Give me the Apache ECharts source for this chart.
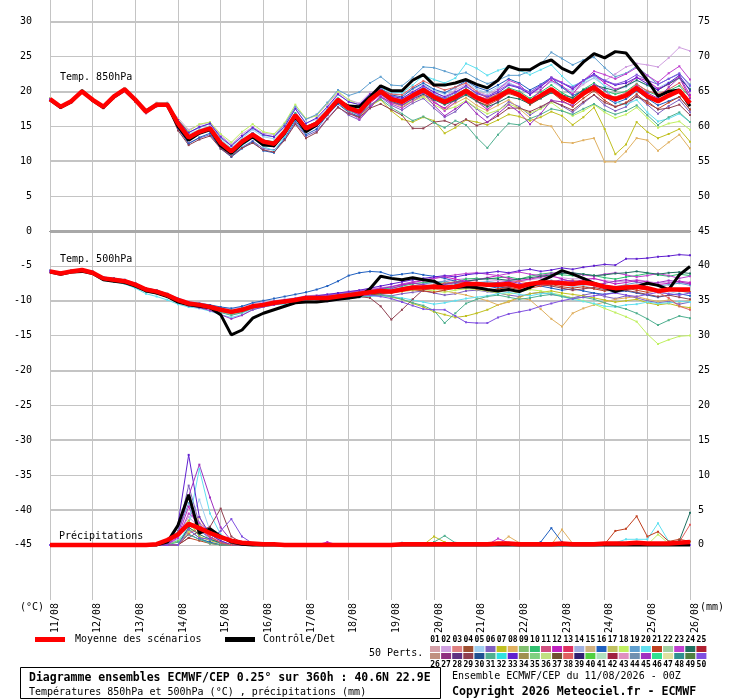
<!DOCTYPE html>
<html><head><meta charset="utf-8">
<script src="https://cdn.jsdelivr.net/npm/echarts@6/dist/echarts.min.js"></script>
<style>html,body{margin:0;padding:0;background:#fff}#c{width:740px;height:700px}</style>
</head><body><div id="c"></div>
<script>
// forecast hours (6-hourly)
const HOURS = [0,6,12,18,24,30,36,42,48,54,60,66,72,78,84,90,96,102,108,114,120,126,132,138,144,150,156,162,168,174,180,186,192,198,204,210,216,222,228,234,240,246,252,258,264,270,276,282,288,294,300,306,312,318,324,330,336,342,348,354,360];
const DATES = ['11/08','12/08','13/08','14/08','15/08','16/08','17/08','18/08','19/08','20/08','21/08','22/08','23/08','24/08','25/08','26/08'];
const Y_TICKS_C = [-45,-40,-35,-30,-25,-20,-15,-10,-5,0,5,10,15,20,25,30];
const Y_TICKS_MM = [0,5,10,15,20,25,30,35,40,45,50,55,60,65,70,75];
const PERT_COLORS = ['#d4a0a8','#d0a0e0','#e08080','#a05030','#a0d0f0','#8060c0','#c0c020','#e0b060','#80c070','#30c070','#d05080','#c020c0','#e03060','#a0b0e0','#d0b080','#2060c0','#c0c060','#c0f060','#60a0d0','#60e0f0','#c04020','#a0d0a0','#c040d0','#207060','#b02030',
'#c09080','#903080','#603080','#904050','#205090','#50b090','#30e0e0','#6020d0','#a09050','#80d080','#c0e080','#705030','#e06060','#302070','#50d040','#b0e0c0','#a02040','#e090c0','#7090b0','#a030c0','#30e090','#e0e0a0','#309090','#508040','#8050e0'];

// ---- 850 hPa temperature (°C) ----
const t850Mean = [18.9,17.8,18.6,20.0,18.8,17.8,19.3,20.3,18.8,17.1,18.1, 18.1,15.4,13.4,14.2,14.7,12.6,11.4,12.8,13.8,12.8, 12.5,14.2,16.6,14.7,15.4,17.0,18.8,17.6,17.1,18.8, 20.0,18.9,18.5,19.4,20.2,19.2,18.5,19.2,20.1,19.1, 18.5,19.2,20.1,19.5,18.5,19.4,20.3,19.2,18.5,19.7, 20.6,19.4,18.9,19.4,20.5,19.3,18.6,19.4,20.1,18.3];
const t850Ctrl = [18.8,17.7,18.5,20.1,18.7,17.7,19.2,20.2,18.7,17.2,18.0, 18.0,15.0,13.0,14.0,14.5,12.2,11.1,12.5,13.5,12.3, 12.2,14.0,16.4,14.2,15.2,17.0,18.6,17.9,17.8,19.2, 20.8,20.1,20.1,21.6,22.4,20.9,20.9,21.2,21.7,21.0, 20.5,21.6,23.6,23.1,23.1,24.0,24.5,23.3,22.6,24.2, 25.4,24.8,25.7,25.5,23.6,21.6,19.3,20.0,20.2,17.9];
const t850_02 = [18.7,17.6,18.4,19.8,18.6,17.6,19.0,19.9,18.5,16.8,17.8,17.9, 16.2,14.5,15.2,15.6,13.7,12.4,13.9,14.9,14.0, 13.8,15.3,17.7,16.0,16.6,18.2,19.8,18.8,18.3,19.8, 20.4,19.5,19.0,20.0,20.8,19.8,19.3,20.2,21.0,20.0, 19.5,20.4,21.2,20.6,19.8,20.8,21.6,20.5,19.8,21.0, 22.0,21.5,22.5,23.5,24.0,23.8,23.5,24.8,26.3,25.8];
const t850_05 = [18.9,17.9,18.7,20.2,18.9,17.9,19.4,20.4,19.0,17.4,18.4,18.4, 15.8,13.9,14.5,15.1,13.1,11.9,13.3,14.5,13.5, 13.2,14.9,17.5,15.5,16.0,17.6,19.5,18.6,18.0,19.5, 20.6,19.8,19.5,20.3,21.0,20.1,19.6,20.5,21.3,20.3, 19.8,20.6,21.3,20.4,19.6,20.4,21.4,20.6,20.1,21.2, 21.9,20.8,20.3,20.6,21.6,20.8,20.5,21.3,22.0,20.6];
const t850_06 = [19.0,17.8,18.5,19.9,18.8,17.9,19.2,20.1,18.6,17.0,17.9,17.9, 14.6,12.6,13.3,13.8,11.9,10.8,12.0,12.9,11.8, 11.6,13.1,15.5,13.6,14.3,16.1,17.8,16.6,15.9,17.6, 19.2,18.0,17.3,18.3,19.0,17.6,16.3,17.1,18.6,17.5, 16.3,17.2,18.5,17.8,16.6,17.6,18.7,17.9,17.0,18.3, 19.5,18.0,17.2,17.8,19.4,18.1,16.8,17.9,18.8,17.0];
const t850_07 = [18.8,17.7,18.5,19.9,18.7,17.6,19.1,20.1,18.6,16.9,17.9,18.0, 15.2,13.2,14.0,14.6,12.5,11.3,12.8,13.7,12.7, 12.4,14.1,16.2,14.6,15.4,16.8,18.5,17.0,16.3,17.9, 18.8,17.2,16.0,15.6,16.3,15.8,14.0,14.8,15.9,15.6, 15.2,15.9,16.7,16.4,15.8,16.3,17.1,16.5,15.2,16.3, 17.7,14.6,11.0,12.4,15.6,14.2,13.3,13.9,14.6,12.8];
const t850_08 = [18.9,17.9,18.6,20.0,18.9,17.8,19.3,20.2,18.8,17.1,18.1,18.2, 15.5,13.5,14.2,14.8,12.7,11.5,12.9,13.9,12.9, 12.6,14.3,16.7,14.9,15.7,17.2,18.9,17.4,16.9,18.5, 19.6,18.4,17.8,18.6,19.4,18.5,17.5,18.3,19.1,18.0, 17.2,18.0,18.8,17.5,16.2,15.3,15.0,12.7,12.6,13.0, 13.3,9.9,9.9,11.4,13.3,13.0,11.5,12.7,13.8,11.8];
const t850_10 = [18.8,17.8,18.6,20.1,18.8,17.7,19.3,20.3,18.9,17.2,18.2,18.1, 15.6,13.6,14.3,14.9,12.9,11.7,13.0,14.0,13.0, 12.8,14.4,16.9,15.0,15.6,17.3,19.0,17.8,17.4,19.0, 20.2,19.1,18.8,19.6,20.5,19.5,18.9,19.5,20.4,19.4, 18.8,19.6,20.5,20.0,19.0,19.9,20.9,19.8,19.0,20.3, 21.2,20.1,19.6,20.0,21.1,20.0,19.4,20.1,20.8,19.2];
const t850_12 = [18.9,17.8,18.7,20.1,18.8,17.8,19.4,20.4,18.9,17.2,18.3,18.2, 15.3,13.3,14.1,14.6,12.4,11.1,12.5,13.5,12.5, 12.1,13.9,16.3,14.3,15.0,16.6,18.4,17.3,16.8,18.3, 19.6,18.5,18.2,19.3,20.3,18.4,17.6,18.8,20.0,18.6, 17.4,18.6,20.0,19.7,18.6,20.2,21.6,20.8,19.6,21.5, 22.4,21.2,20.3,20.8,22.0,21.5,20.4,21.0,22.1,19.5];
const t850_16 = [18.8,17.7,18.6,20.0,18.7,17.7,19.2,20.2,18.7,17.0,18.0,18.0, 14.8,12.5,13.4,14.0,11.8,10.6,11.8,12.8,11.5, 11.2,13.3,15.8,13.8,14.6,16.6,18.2,17.0,16.4,18.5, 20.4,19.5,19.2,20.4,21.2,20.3,19.8,20.6,21.5,20.6, 20.1,20.9,21.8,21.2,20.2,21.0,22.0,20.6,19.4,20.1, 20.7,19.2,18.3,18.9,20.1,19.0,18.0,18.6,19.2,17.4];
const t850_18 = [19.0,17.9,18.7,20.2,19.0,17.9,19.4,20.5,19.0,17.3,18.3,18.3, 16.0,14.3,15.3,15.6,13.9,12.7,14.2,15.3,14.2, 13.9,15.5,18.1,16.1,16.5,18.3,20.0,18.8,18.0,19.6, 20.1,18.6,18.0,18.6,19.2,18.1,17.3,17.8,18.7,17.6, 16.8,17.3,18.2,17.6,16.9,17.5,18.4,17.3,16.5,17.2, 18.1,17.0,16.2,16.7,17.7,16.2,14.8,15.4,15.7,14.5];
const t850_19 = [18.9,17.9,18.6,20.1,18.9,17.9,19.3,20.3,18.8,17.1,18.2,18.3, 15.9,14.1,14.8,15.4,13.3,12.2,13.5,14.7,13.7, 13.5,15.3,17.8,16.0,16.7,18.4,20.2,19.4,19.9,21.2, 22.1,20.9,20.8,22.0,23.5,23.4,22.9,22.4,22.7,21.8, 21.1,21.6,22.3,22.3,22.9,23.9,25.6,24.7,23.8,24.5, 24.9,23.4,22.1,22.6,23.6,22.3,21.0,21.8,22.5,21.0];
const t850_20 = [18.8,17.8,18.5,19.9,18.7,17.7,19.2,20.2,18.7,17.0,18.0,18.0, 15.3,13.2,14.0,14.5,12.3,10.9,12.2,13.3,12.1, 11.5,13.5,16.0,14.3,15.2,16.9,18.8,17.7,17.3,19.1, 20.5,19.9,19.8,20.9,22.3,21.7,21.2,21.9,24.0,23.3, 22.3,23.0,23.5,23.0,22.4,23.1,23.8,22.2,20.8,21.4, 22.3,20.7,18.5,18.1,18.8,17.0,15.7,16.1,16.8,15.6];
const t850_21 = [18.9,17.8,18.6,20.0,18.8,17.8,19.3,20.3,18.8,17.1,18.1,18.1, 15.4,13.4,14.3,14.8,12.7,11.5,12.9,13.9,12.8, 12.5,14.2,16.5,14.7,15.5,17.1,18.9,17.7,17.1,18.7, 19.9,18.8,18.3,19.2,19.9,18.9,18.2,18.8,19.7,18.6, 18.0,18.8,19.7,19.2,18.1,19.0,19.9,18.7,17.8,19.0, 20.1,18.7,17.8,18.4,19.6,18.3,17.5,18.4,19.2,17.4];
const t850_23 = [18.8,17.7,18.5,20.0,18.7,17.7,19.2,20.2,18.7,17.0,18.0,18.1, 15.2,13.2,14.0,14.5,12.4,11.2,12.6,13.6,12.6, 12.3,14.0,16.5,14.5,15.2,16.8,18.6,17.1,16.0,17.7, 19.4,18.2,17.6,18.6,19.6,18.7,17.2,18.5,20.0,19.4, 18.9,20.2,21.6,21.0,19.5,20.6,22.0,21.3,20.3,21.5, 22.9,22.4,21.8,22.5,23.4,22.3,21.3,22.6,23.6,21.7];
const t850_24 = [18.9,17.8,18.6,20.0,18.8,17.8,19.2,20.2,18.7,17.1,18.1,18.2, 15.5,13.5,14.3,14.8,12.8,11.6,13.0,14.0,13.0, 12.7,14.3,16.7,14.8,15.5,17.0,18.7,17.5,17.0,18.6, 19.7,18.6,18.0,18.9,19.6,18.8,18.1,18.7,19.5,18.6, 17.8,18.4,19.2,18.9,18.2,19.0,19.8,19.5,19.1,20.2, 20.9,20.5,20.1,20.8,21.6,20.9,20.2,21.1,21.9,20.3];
const t850_29 = [18.8,17.7,18.5,19.9,18.7,17.6,19.1,20.1,18.5,16.9,17.9,17.9, 14.4,12.3,13.1,13.6,11.8,10.7,11.9,12.6,11.6, 11.3,13.0,15.3,13.3,14.1,16.0,17.7,16.8,16.3,17.6, 18.2,17.4,16.6,14.7,14.7,15.6,15.8,15.2,16.0,15.1, 15.6,16.5,17.6,17.6,17.1,17.8,18.6,18.0,17.3,18.5, 19.5,18.4,17.8,18.3,19.2,18.6,17.4,17.6,18.1,16.6];
const t850_31 = [18.9,17.8,18.6,20.0,18.8,17.8,19.3,20.3,18.8,17.1,18.0,18.0, 15.2,13.3,14.1,14.6,12.5,11.3,12.7,13.7,12.6, 12.3,14.0,16.4,14.5,15.2,16.7,18.5,17.2,16.6,18.1, 18.9,17.7,16.8,15.8,16.4,15.5,14.8,15.8,15.2,13.4, 11.9,13.8,15.4,15.2,16.1,16.7,17.5,17.2,16.7,17.5, 18.2,17.3,16.7,17.2,18.0,16.6,15.2,16.3,17.0,15.6];
const t850_33 = [18.9,17.8,18.7,20.1,18.9,17.8,19.3,20.4,18.9,17.2,18.2,18.2, 15.9,14.1,14.9,15.4,13.5,12.2,13.6,14.8,13.8, 13.5,15.0,17.5,15.4,16.2,17.8,19.6,18.5,18.1,19.6, 20.2,19.3,19.0,19.9,20.8,19.9,19.2,19.9,20.8,19.7, 19.2,19.8,20.9,20.5,19.6,20.7,21.9,21.2,20.4,21.6, 22.5,21.5,20.9,21.2,22.0,21.1,20.2,21.2,22.3,20.1];
const t850_38 = [18.8,17.8,18.6,19.9,18.8,17.8,19.2,20.3,18.8,17.1,18.1,18.1, 15.4,13.3,14.1,14.7,12.6,11.4,12.8,13.8,12.7, 12.4,14.1,16.5,14.6,15.3,17.0,18.7,17.6,17.1,18.8, 20.2,19.6,19.5,20.6,21.5,20.8,20.2,20.6,21.2,20.0, 19.0,19.6,20.3,19.6,18.5,19.2,20.0,18.9,18.3,19.4, 20.5,19.5,19.2,19.8,21.0,20.1,19.6,20.3,21.2,19.2];
const t850_45 = [18.9,17.8,18.6,20.0,18.9,17.8,19.3,20.2,18.7,17.0,18.1,18.1, 15.3,13.4,14.2,14.7,12.6,11.4,12.7,13.8,12.8, 12.4,14.2,16.6,14.6,15.3,16.8,18.6,17.4,16.6,17.9, 19.2,18.4,18.0,19.0,19.8,18.0,16.5,17.5,18.5,16.8, 15.6,16.8,18.1,17.0,15.3,16.8,18.7,18.5,18.0,19.6, 21.0,20.2,18.6,19.4,20.8,19.8,19.0,20.6,22.0,19.0];
const t850_50 = [18.8,17.7,18.5,20.0,18.8,17.7,19.2,20.3,18.8,17.1,18.2,18.2, 15.5,13.5,14.3,14.9,12.8,11.6,13.0,14.0,13.0, 12.6,14.3,16.7,14.8,15.6,17.2,18.9,17.7,17.3,19.0, 20.3,19.2,18.8,19.7,20.6,19.6,19.0,19.8,20.7,19.8, 19.3,20.1,21.0,20.6,19.9,20.9,21.9,21.2,20.6,21.6, 22.3,21.6,21.0,21.5,22.4,21.6,21.0,21.8,22.6,20.8];

// ---- 500 hPa temperature (°C) ----
const t500Mean = [-5.8,-6.1,-5.8,-5.6,-6.0,-6.8,-7.0,-7.2,-7.7,-8.4,-8.7, -9.2,-9.9,-10.4,-10.6,-10.9,-11.3,-11.6,-11.3,-10.8,-10.6, -10.3,-10.1,-9.9,-9.6,-9.6,-9.6,-9.4,-9.2,-9.0,-8.8, -8.6,-8.7,-8.4,-8.1,-8.1,-8.0,-8.1,-8.0,-7.6,-7.6, -7.7,-7.7,-7.6,-8.0,-7.6,-7.4,-7.4,-7.5,-7.6,-7.4, -7.6,-8.0,-8.2,-8.1,-8.0,-8.2,-8.6,-8.4,-8.4,-8.4];
const t500Ctrl = [-5.9,-6.2,-5.9,-5.8,-6.1,-7.0,-7.2,-7.4,-7.9,-8.6,-8.9, -9.4,-10.2,-10.6,-10.8,-11.0,-12.0,-14.9,-14.2,-12.5,-11.8, -11.3,-10.8,-10.3,-10.2,-10.2,-10.0,-9.8,-9.6,-9.4,-8.3, -6.5,-6.8,-7.0,-6.7,-7.0,-7.2,-8.1,-8.1,-8.0,-8.1, -8.4,-8.6,-8.4,-8.7,-8.1,-7.2,-6.5,-5.7,-6.2,-6.8, -7.5,-8.1,-8.7,-8.2,-8.0,-7.5,-7.8,-8.4,-6.3,-5.1];
const t500_02 = [-5.8,-6.0,-5.7,-5.5,-5.9,-6.6,-6.8,-7.0,-7.5,-8.2,-8.5, -9.0,-9.6,-10.1,-10.3,-10.6,-11.0,-11.2,-10.9,-10.4,-10.2, -10.0,-9.8,-9.6,-9.3,-9.2,-9.1,-8.9,-8.7,-8.5,-8.3, -8.1,-8.0,-7.7,-7.5,-7.4,-7.3,-7.2,-7.0,-6.8,-6.9, -7.0,-7.1,-7.0,-7.2,-7.0,-6.8,-6.6,-6.7,-6.9,-6.8, -6.9,-7.1,-7.3,-7.2,-7.0,-7.2,-7.5,-7.3,-7.4,-7.6];
const t500_05 = [-5.7,-6.1,-5.8,-5.6,-6.0,-6.7,-7.0,-7.3,-7.8,-8.6,-8.9, -9.5,-10.2,-10.7,-10.9,-11.2,-11.6,-12.0,-11.8,-11.2,-10.9, -10.6,-10.4,-10.1,-9.9,-9.8,-9.7,-9.5,-9.3,-9.2,-9.0, -8.8,-8.6,-8.2,-8.0,-8.3,-8.1,-7.8,-7.6,-7.7,-7.4, -7.2,-7.5,-7.9,-8.2,-8.0,-7.6,-7.3,-7.7,-8.0,-7.8, -8.3,-8.5,-8.8,-8.4,-8.1,-8.4,-8.8,-9.0,-8.6,-8.9];
const t500_06 = [-5.8,-6.1,-5.9,-5.6,-6.0,-6.9,-7.1,-7.3,-7.8,-8.5,-8.8, -9.3,-10.1,-10.6,-10.8,-11.1,-11.5,-11.9,-11.6,-11.0,-10.7, -10.4,-10.2,-10.0,-9.8,-9.9,-10.1,-9.9,-9.7,-9.5,-9.3, -9.1,-9.3,-9.0,-8.8,-8.6,-8.9,-9.2,-9.0,-8.6,-8.5, -8.7,-8.9,-9.2,-9.4,-9.0,-8.8,-9.1,-9.3,-9.6,-9.2, -8.9,-9.4,-9.7,-9.3,-9.6,-10.0,-10.3,-10.1,-10.5,-10.2];
const t500_07 = [-5.9,-6.2,-5.8,-5.7,-6.1,-6.9,-7.1,-7.4,-7.9,-8.5,-8.8, -9.3,-10.0,-10.5,-10.8,-11.0,-11.5,-11.8,-11.4,-10.9,-10.7, -10.4,-10.3,-10.0,-9.8,-9.7,-9.7,-9.6,-9.4,-9.2,-9.1, -9.2,-9.5,-9.8,-10.4,-10.9,-11.6,-12.0,-12.4,-12.2,-11.8, -11.3,-10.6,-10.1,-9.5,-9.0,-8.8,-8.6,-8.9,-9.1,-9.3, -9.6,-9.9,-10.2,-10.0,-9.8,-10.3,-10.6,-10.4,-10.8,-11.0];
const t500_08 = [-5.8,-6.1,-5.8,-5.6,-6.0,-6.8,-7.0,-7.2,-7.7,-8.4,-8.7, -9.2,-9.9,-10.4,-10.7,-11.0,-11.4,-11.7,-11.4,-10.9,-10.6, -10.4,-10.2,-10.0,-9.7,-9.6,-9.5,-9.3,-9.1,-8.9,-8.8, -8.6,-8.8,-8.7,-8.5,-8.4,-8.3,-8.6,-8.9,-9.2,-9.6, -10.0,-10.6,-10.2,-9.6,-9.9,-11.2,-12.6,-13.7,-11.8,-11.1, -10.6,-10.2,-9.8,-9.6,-9.4,-9.8,-10.1,-9.9,-10.2,-10.0];
const t500_10 = [-5.7,-6.0,-5.7,-5.5,-5.9,-6.7,-6.9,-7.1,-7.6,-8.3,-8.6, -9.1,-9.8,-10.3,-10.5,-10.8,-11.1,-11.4,-11.1,-10.7,-10.5, -10.2,-10.0,-9.8,-9.5,-9.4,-9.3,-9.1,-8.9,-8.7,-8.5, -8.3,-8.2,-7.9,-7.6,-7.4,-7.3,-7.5,-7.3,-6.9,-6.8, -6.9,-6.7,-6.6,-6.9,-6.5,-6.2,-6.0,-6.3,-6.4,-6.2, -6.4,-6.7,-6.9,-6.6,-6.4,-6.1,-6.3,-6.5,-6.2,-6.4];
const t500_12 = [-5.8,-6.1,-5.8,-5.6,-6.0,-6.8,-7.0,-7.3,-7.8,-8.4,-8.7, -9.2,-10.0,-10.5,-10.7,-11.0,-11.4,-11.8,-11.5,-11.0,-10.8, -10.5,-10.3,-10.0,-9.8,-9.7,-9.6,-9.5,-9.3,-9.1,-8.9, -8.6,-8.3,-7.8,-7.4,-7.1,-6.8,-6.6,-6.9,-7.2,-7.0, -6.7,-6.4,-6.8,-7.1,-6.9,-6.6,-6.4,-6.9,-7.3,-7.0, -6.8,-7.2,-7.6,-7.4,-7.1,-7.3,-7.7,-7.5,-7.2,-7.4];
const t500_16 = [-5.8,-6.0,-5.7,-5.5,-5.8,-6.6,-6.8,-7.0,-7.5,-8.2,-8.5, -9.0,-9.7,-10.2,-10.4,-10.6,-10.9,-11.1,-10.8,-10.3,-10.0, -9.7,-9.4,-9.1,-8.8,-8.4,-7.9,-7.2,-6.4,-6.0,-5.8, -5.9,-6.4,-6.2,-6.0,-6.3,-6.5,-6.8,-7.2,-7.4,-7.6, -7.9,-8.2,-8.0,-7.8,-7.6,-7.9,-8.2,-8.5,-8.3,-8.6, -8.9,-9.1,-8.8,-8.6,-8.9,-9.2,-9.5,-9.2,-9.0,-9.3];
const t500_18 = [-5.9,-6.2,-5.9,-5.7,-6.1,-6.9,-7.2,-7.4,-7.9,-8.6,-8.9, -9.4,-10.1,-10.6,-10.8,-11.1,-11.5,-11.9,-11.6,-11.1,-10.9, -10.6,-10.4,-10.2,-9.9,-9.8,-9.7,-9.6,-9.4,-9.2,-9.0, -8.9,-8.8,-8.6,-8.5,-8.4,-8.6,-8.8,-8.5,-8.3,-8.4, -8.6,-8.9,-9.1,-8.7,-8.4,-8.6,-8.9,-9.2,-9.6,-10.0, -10.5,-11.1,-11.7,-12.3,-13.0,-14.8,-16.2,-15.6,-15.1,-15.0];
const t500_19 = [-5.7,-6.0,-5.7,-5.5,-5.9,-6.7,-6.9,-7.1,-7.6,-8.3,-8.6, -9.1,-9.8,-10.3,-10.6,-10.9,-11.3,-11.7,-11.4,-10.9,-10.6, -10.3,-10.1,-9.9,-9.7,-9.5,-9.4,-9.2,-9.0,-8.8,-8.7, -8.5,-8.4,-8.1,-7.9,-7.6,-7.4,-7.2,-7.5,-7.8,-7.6, -7.3,-7.4,-7.7,-7.9,-7.6,-7.3,-7.1,-7.4,-7.6,-7.3, -7.5,-7.8,-8.0,-7.7,-7.4,-7.6,-7.9,-7.7,-7.5,-7.8];
const t500_20 = [-5.9,-6.2,-5.9,-5.7,-6.1,-7.0,-7.3,-7.6,-8.2,-9.0,-9.4, -9.9,-10.5,-10.9,-11.1,-11.5,-12.0,-12.4,-12.0,-11.3,-10.9, -10.6,-10.5,-10.3,-10.1,-10.0,-10.0,-9.8,-9.7,-9.5,-9.4, -9.3,-9.4,-9.6,-9.9,-10.2,-10.5,-10.3,-10.0,-9.7,-9.5, -9.3,-9.0,-8.8,-9.1,-9.3,-9.0,-8.9,-9.4,-9.8,-10.1, -10.4,-10.8,-10.9,-10.6,-10.5,-10.2,-10.4,-10.3,-10.1,-10.2];
const t500_21 = [-5.8,-6.1,-5.8,-5.6,-6.0,-6.8,-7.0,-7.3,-7.8,-8.5,-8.8, -9.3,-10.0,-10.5,-10.7,-11.0,-11.4,-11.7,-11.3,-10.8,-10.6, -10.4,-10.2,-10.0,-9.8,-9.7,-9.6,-9.5,-9.4,-9.3,-9.2, -9.0,-8.9,-8.6,-8.4,-8.6,-8.8,-8.5,-8.2,-8.0,-8.3, -8.5,-8.3,-8.1,-8.4,-8.2,-7.9,-7.7,-8.0,-8.2,-8.0, -8.3,-8.6,-8.4,-8.2,-8.5,-8.8,-8.6,-8.3,-8.6,-8.8];
const t500_23 = [-5.8,-6.1,-5.8,-5.6,-6.0,-6.8,-7.0,-7.2,-7.7,-8.4,-8.7, -9.2,-9.9,-10.4,-10.6,-10.9,-11.3,-11.6,-11.3,-10.8,-10.5, -10.2,-10.0,-9.8,-9.6,-9.4,-9.2,-9.0,-8.8,-8.6,-8.4, -8.2,-8.0,-7.6,-7.3,-7.0,-6.8,-6.5,-6.3,-6.1,-6.0, -6.2,-6.4,-6.1,-5.9,-6.2,-6.4,-6.1,-5.8,-6.0,-6.3, -6.5,-6.2,-6.0,-6.3,-6.6,-6.4,-6.1,-6.4,-6.8,-6.5];
const t500_24 = [-5.8,-6.1,-5.8,-5.6,-6.0,-6.8,-7.0,-7.3,-7.8,-8.5,-8.8, -9.3,-10.0,-10.5,-10.7,-11.0,-11.4,-11.8,-11.5,-11.0,-10.7, -10.5,-10.3,-10.1,-9.9,-9.8,-9.7,-9.6,-9.4,-9.2,-9.1, -8.9,-8.7,-8.4,-8.2,-8.0,-7.8,-7.6,-7.4,-7.2,-7.0, -6.8,-6.9,-7.1,-6.9,-6.7,-6.5,-6.3,-6.1,-6.0,-6.2, -6.4,-6.3,-6.1,-6.0,-5.8,-6.0,-6.2,-6.0,-5.9,-6.1];
const t500_29 = [-5.8,-6.1,-5.8,-5.6,-6.0,-6.8,-7.0,-7.3,-7.8,-8.5,-8.8, -9.3,-10.0,-10.5,-10.7,-11.0,-11.4,-11.8,-11.5,-11.0,-10.8, -10.5,-10.3,-10.1,-9.9,-9.8,-9.7,-9.6,-9.5,-9.4,-9.6, -10.8,-12.7,-11.3,-9.8,-8.4,-8.2,-8.0,-7.8,-7.6,-7.4, -7.6,-7.9,-8.1,-7.8,-7.5,-7.7,-7.9,-8.2,-8.5,-8.3, -8.1,-8.4,-8.7,-8.5,-8.8,-9.1,-9.4,-9.2,-9.5,-9.8];
const t500_31 = [-5.9,-6.2,-5.9,-5.7,-6.1,-7.0,-7.2,-7.5,-8.0,-8.7,-9.0, -9.5,-10.2,-10.7,-10.9,-11.2,-11.7,-12.1,-11.7,-11.1,-10.8, -10.5,-10.3,-10.1,-9.9,-9.8,-9.7,-9.6,-9.5,-9.4,-9.3, -9.2,-9.4,-9.8,-10.3,-10.7,-11.4,-13.2,-11.8,-10.4,-9.8, -9.4,-9.2,-9.5,-9.8,-9.6,-9.3,-9.1,-9.4,-9.7,-9.5, -9.8,-10.3,-10.8,-11.2,-11.8,-12.6,-13.5,-12.8,-12.2,-12.5];
const t500_33 = [-5.7,-6.0,-5.7,-5.5,-5.9,-6.7,-6.9,-7.1,-7.6,-8.3,-8.6, -9.1,-9.8,-10.3,-10.5,-10.8,-11.2,-11.5,-11.2,-10.7,-10.4, -10.1,-9.9,-9.7,-9.4,-9.3,-9.1,-8.9,-8.7,-8.5,-8.2, -7.9,-7.6,-7.3,-7.0,-6.8,-6.6,-6.4,-6.6,-6.3,-6.1, -6.0,-5.8,-6.0,-5.7,-5.5,-5.8,-5.6,-5.3,-5.5,-5.2, -5.0,-4.8,-4.9,-4.0,-4.0,-3.9,-3.7,-3.6,-3.4,-3.5];
const t500_38 = [-5.8,-6.1,-5.8,-5.6,-6.0,-6.8,-7.0,-7.2,-7.7,-8.4,-8.7, -9.2,-9.9,-10.4,-10.6,-10.9,-11.3,-11.6,-11.3,-10.8,-10.5, -10.3,-10.1,-9.9,-9.7,-9.6,-9.5,-9.3,-9.1,-8.9,-8.8, -8.6,-8.5,-8.3,-8.1,-7.9,-7.7,-7.5,-7.3,-7.4,-7.6, -7.8,-7.6,-7.4,-7.2,-7.5,-7.8,-7.6,-7.3,-7.1,-7.3, -7.6,-7.9,-8.1,-7.8,-8.2,-8.5,-8.8,-9.6,-10.8,-11.3];
const t500_45 = [-5.8,-6.1,-5.8,-5.6,-6.0,-6.8,-7.0,-7.3,-7.8,-8.5,-8.8, -9.3,-10.1,-10.7,-11.0,-11.4,-12.0,-12.6,-12.1,-11.3,-10.9, -10.6,-10.3,-10.1,-9.8,-9.6,-9.4,-9.2,-9.0,-8.8,-8.6, -8.3,-8.0,-7.7,-7.5,-7.7,-7.9,-7.7,-7.4,-7.2,-7.5, -7.7,-7.4,-7.2,-7.5,-7.8,-7.6,-7.3,-7.0,-7.2,-7.5, -7.8,-7.5,-7.2,-7.0,-7.3,-7.6,-7.4,-7.1,-7.3,-7.6];
const t500_50 = [-5.8,-6.1,-5.8,-5.6,-6.0,-6.8,-7.0,-7.2,-7.7,-8.4,-8.7, -9.2,-9.9,-10.4,-10.6,-10.9,-11.3,-11.6,-11.3,-10.8,-10.6, -10.4,-10.2,-10.0,-9.8,-9.7,-9.6,-9.5,-9.4,-9.3,-9.2, -9.4,-9.7,-10.2,-10.7,-11.2,-11.3,-11.3,-12.2,-13.1,-13.2, -13.2,-12.4,-11.9,-11.6,-11.3,-10.8,-10.4,-10.0,-9.7,-9.5, -9.3,-9.1,-8.9,-9.2,-9.4,-9.1,-8.8,-9.0,-9.2,-8.9];

// ---- precipitation (mm) ----
const prMean = [0,0,0,0,0,0,0,0,0,0,0.1, 0.7,1.5,3.0,2.4,1.7,1.1,0.6,0.3,0.2,0.1, 0.1,0,0,0,0,0,0,0,0,0, 0,0,0.1,0.1,0.1,0.1,0.1,0.1,0.1,0.1, 0.1,0.2,0.2,0.1,0.1,0.1,0.1,0.2,0.1,0.1, 0.1,0.2,0.2,0.2,0.3,0.2,0.2,0.2,0.3,0.4];
const prCtrl = [0,0,0,0,0,0,0,0,0,0,0, 0.4,2.8,7.2,1.7,2.3,1.2,0.4,0.1,0,0, 0,0,0,0,0,0,0,0,0,0, 0,0,0,0,0,0,0,0,0,0, 0,0,0,0,0,0,0,0,0,0, 0,0,0,0,0,0,0,0,0,0];
const pr_02 = [0,0,0,0,0,0,0,0,0,0,0, 0.2,1.5,4.0,2.5,1.0,0.4,0.1,0,0,0, 0,0,0,0,0,0,0,0,0,0, 0,0,0,0,0,0,0,0,0,0, 0,0,0,0,0,0,0,0,0,0, 0,0,0,0,0,0,0,0,0,0];
const pr_05 = [0,0,0,0,0,0,0,0,0,0,0, 0,0.8,3.2,6.5,2.0,0.6,0,0,0,0, 0,0,0,0,0,0,0,0,0,0, 0,0,0,0,0,0,0,0,0,0, 0,0,0,0,0,0,0,0,0,0, 0,0,0,0,0,0,0,0,0,0];
const pr_06 = [0,0,0,0,0,0,0,0,0,0,0, 0,2.0,8.5,3.0,1.2,0.3,0,0,0,0, 0,0,0,0,0,0,0,0,0,0, 0,0,0,0,0,0,0,0,0,0, 0,0,0,0,0,0,0,0,0,0, 0,0,0,0,0,0,0,0,0,0];
const pr_07 = [0,0,0,0,0,0,0,0,0,0,0, 0.5,1.8,3.5,1.2,0.6,0.2,0,0,0,0, 0,0,0,0,0,0,0,0,0,0, 0,0,0,0,0,1.2,0.4,0,0,0, 0,0,0,0,0,0,0,0,0,0, 0,0,0,0,0,0,0,0,0,0];
const pr_08 = [0,0,0,0,0,0,0,0,0,0,0, 0,0,2.0,4.0,1.0,0.2,0,0,0,0, 0,0,0,0,0,0,0,0,0,0, 0,0,0,0,0,0,0,0,0,0, 0,0,1.2,0.3,0,0,0,2.2,0.2,0, 0,0,0,0,0,0,0,0,0,0];
const pr_10 = [0,0,0,0,0,0,0,0,0,0,0, 0,0.6,2.2,1.0,0.3,0,0,0,0,0, 0,0,0,0,0,0,0,0,0,0, 0,0,0,0,0,0,0,0,0,0, 0,0,0,0,0,0,0,0,0,0, 0,0,0,0,0,0,0,0,0,0];
const pr_12 = [0,0,0,0,0,0,0,0,0,0,0, 0,1.2,5.5,2.0,1.1,0.4,0,0,0,0, 0,0,0,0,0,0.4,0,0,0,0, 0,0,0,0,0,0,0,0,0,0, 0,0,0,0,0,0,0,0,0,0, 0,0,0,0,0,0,0,0,0,0];
const pr_16 = [0,0,0,0,0,0,0,0,0,0,0, 0,0,1.5,0.8,0.4,0,0,0,0,0, 0,0,0,0,0,0,0,0,0,0, 0,0,0,0,0,0,0,0,0,0, 0,0,0,0,0,0.4,2.4,0.4,0,0, 0,0,0,0,0,0,0,0,0,0];
const pr_18 = [0,0,0,0,0,0,0,0,0,0,0, 0,0.5,1.8,2.8,1.5,0.5,0,0,0,0, 0,0,0,0,0,0,0,0,0,0, 0,0,0,0,0,0,0,0,0,0, 0,0,0,0,0,0,0,0,0,0, 0,0,0,0,0,0,1.5,0.2,0,0];
const pr_19 = [0,0,0,0,0,0,0,0,0,0,0, 0,1.8,6.0,2.2,0.8,0.2,0,0,0,0, 0,0,0,0,0,0,0,0,0,0, 0,0,0.3,0,0,0,0,0,0,0, 0,0,0,0,0,0,0,0,0,0, 0,0,0,0,0,0,0,0,0,0];
const pr_20 = [0,0,0,0,0,0,0,0,0,0,0, 0,0,3.0,10.9,4.5,1.5,0.5,0,0,0, 0,0,0,0,0,0,0,0,0,0, 0,0,0,0,0,0,0,0,0,0, 0,0,0,0,0,0,0,0,0,0, 0,0,0.3,0.8,0.8,0.8,3.1,0.5,0,0];
const pr_21 = [0,0,0,0,0,0,0,0,0,0,0, 0,0,1.0,0.6,0.2,0,0,0,0,0, 0,0,0,0,0,0,0,0,0,0, 0,0,0,0,0,0,0,0,0,0, 0,0,0,0,0,0,0,0,0,0, 0,0.1,2.0,2.3,4.1,1.2,1.9,0.5,0.8,0.5];
const pr_23 = [0,0,0,0,0,0,0,0,0,0,0, 0,1.0,4.5,3.2,1.6,0.5,0,0,0,0, 0,0,0,0,0,0,0,0,0,0, 0,0,0,0,0,0,0,0,0,0, 0,0.9,0.3,0,0,0,0,0,0,0, 0,0,0,0,0,0,0,0,0,0];
const pr_24 = [0,0,0,0,0,0,0,0,0,0,0, 0,0,2.5,1.5,0.8,0.3,0,0,0,0, 0,0,0,0,0,0,0,0,0,0, 0,0,0,0,0,0,0,0,0,0, 0,0,0,0,0,0,0,0,0,0, 0,0,0,0,0,0,0,0,0.6,4.6];
const pr_29 = [0,0,0,0,0,0,0,0,0,0,0, 0,0,1.0,2.0,2.6,5.2,1.2,0.3,0,0, 0,0,0,0,0,0,0,0,0,0, 0,0,0,0,0,0,0,0,0,0, 0,0,0,0,0,0,0,0,0,0, 0,0,0,0,0,0,0,0,0,0];
const pr_31 = [0,0,0,0,0,0,0,0,0,0,0, 0,0.4,1.5,0.8,0.2,0,0,0,0,0, 0,0,0,0,0,0,0,0,0,0, 0,0,0,0,0,0.4,1.3,0.3,0,0, 0,0,0,0,0,0,0,0,0,0, 0,0,0,0,0,0,0,0,0,0];
const pr_33 = [0,0,0,0,0,0,0,0,0,0,0, 0,3.0,12.9,4.0,1.5,0.6,0,0,0,0, 0,0,0,0,0,0,0,0,0,0, 0,0,0,0,0,0,0,0,0,0, 0,0,0,0,0,0,0,0,0,0, 0,0,0,0,0,0,0,0,0,0];
const pr_38 = [0,0,0,0,0,0,0,0,0,0,0, 0,0,1.6,2.4,1.2,0.3,0,0,0,0, 0,0,0,0,0,0,0,0,0,0, 0,0,0,0,0,0,0,0,0,0, 0,0,0,0,0,0,0,0,0,0, 0,0,0,0,0,0,0,0,0.4,2.9];
const pr_45 = [0,0,0,0,0,0,0,0,0,0,0, 0,1.5,7.0,11.5,6.8,2.5,0.6,0,0,0, 0,0,0,0,0,0,0,0,0,0, 0,0,0,0,0,0,0,0,0,0, 0,0,0,0,0,0,0,0,0,0, 0,0,0,0,0,0,0,0,0,0];
const pr_50 = [0,0,0,0,0,0,0,0,0,0,0, 0,0,2.2,1.0,0.8,2.0,3.7,1.2,0.2,0, 0,0,0,0,0,0,0,0,0,0, 0,0,0,0,0,0,0,0,0,0, 0,0,0,0,0,0,0,0,0,0, 0,0,0,0,0,0,0,0,0,0];

const MEMBERS = ['02','05','06','07','08','10','12','16','18','19','20','21','23','24','29','31','33','38','45','50'];
const T850 = {'02':t850_02,'05':t850_05,'06':t850_06,'07':t850_07,'08':t850_08,'10':t850_10,'12':t850_12,'16':t850_16,'18':t850_18,'19':t850_19,'20':t850_20,'21':t850_21,'23':t850_23,'24':t850_24,'29':t850_29,'31':t850_31,'33':t850_33,'38':t850_38,'45':t850_45,'50':t850_50};
const T500 = {'02':t500_02,'05':t500_05,'06':t500_06,'07':t500_07,'08':t500_08,'10':t500_10,'12':t500_12,'16':t500_16,'18':t500_18,'19':t500_19,'20':t500_20,'21':t500_21,'23':t500_23,'24':t500_24,'29':t500_29,'31':t500_31,'33':t500_33,'38':t500_38,'45':t500_45,'50':t500_50};
const PR = {'02':pr_02,'05':pr_05,'06':pr_06,'07':pr_07,'08':pr_08,'10':pr_10,'12':pr_12,'16':pr_16,'18':pr_18,'19':pr_19,'20':pr_20,'21':pr_21,'23':pr_23,'24':pr_24,'29':pr_29,'31':pr_31,'33':pr_33,'38':pr_38,'45':pr_45,'50':pr_50};

const MONO = '"DejaVu Sans Mono", monospace';
function pairs(vals){ return HOURS.map((h,i)=>[h, vals[i]]); }
function member(vals, num, axis){
  const c = PERT_COLORS[parseInt(num,10)-1];
  return {type:'line', yAxisIndex:axis, data:pairs(vals), silent:true, z:2,
    lineStyle:{width:1,color:c}, itemStyle:{color:c},
    symbol:'rect', symbolSize:2, showSymbol:true, showAllSymbol:true};
}
function thick(vals, color, width, axis, z){
  return {type:'line', yAxisIndex:axis, data:pairs(vals), silent:true, z:z,
    lineStyle:{width:width,color:color}, itemStyle:{color:color}, symbol:'none'};
}

const series = [];
MEMBERS.forEach(m=>{ series.push(member(T850[m], m, 0)); });
MEMBERS.forEach(m=>{ series.push(member(T500[m], m, 0)); });
MEMBERS.forEach(m=>{ series.push(member(PR[m], m, 1)); });
const gridLines = Y_TICKS_C.map(v=>({yAxis:v, lineStyle:{color: v===0?'#a8a8a8':'#c4c4c4', width: v===0?3:(v%10===0?2:1), type:'solid'}}));
const c850 = thick(t850Ctrl,'#000',3,0,3);
c850.markLine = {silent:true, z:1, symbol:['none','none'], label:{show:false}, animation:false, data:gridLines};
series.push(c850);
series.push(thick(t500Ctrl,'#000',3,0,3));
series.push(thick(prCtrl,'#000',3,1,3));
series.push(thick(t850Mean,'#ff0000',4.5,0,4));
series.push(thick(t500Mean,'#ff0000',4.5,0,4));
series.push(thick(prMean,'#ff0000',4.5,1,4));

// legend / captions
const graphic = [];
function txt(x,y,s,font,align){ graphic.push({type:'text', x:x, y:y, silent:true, z:10, style:{text:s, font:font, fill:'#000', textAlign:align||'left', textVerticalAlign:'middle'}}); }
txt(60,77,'Temp. 850hPa','10px '+MONO);
txt(60,259,'Temp. 500hPa','10px '+MONO);
txt(59,536,'Précipitations','10px '+MONO);
txt(20,607,'(°C)','10px '+MONO);
txt(700,607,'(mm)','10px '+MONO);
graphic.push({type:'rect', shape:{x:35,y:637,width:30,height:5}, style:{fill:'#ff0000'}, silent:true});
txt(75,639,'Moyenne des scénarios','10px '+MONO);
graphic.push({type:'rect', shape:{x:225,y:637,width:30,height:5}, style:{fill:'#000'}, silent:true});
txt(263,639,'Contrôle/Det','10px '+MONO);
txt(369,653,'50 Perts.','10px '+MONO);
for (let k=0;k<25;k++){
  const x = 430 + k*11.1;
  graphic.push({type:'rect', shape:{x:x,y:646,width:10,height:6}, style:{fill:PERT_COLORS[k]}, silent:true});
  graphic.push({type:'rect', shape:{x:x,y:653,width:10,height:6}, style:{fill:PERT_COLORS[k+25]}, silent:true});
  txt(x+5,640,String(k+1).padStart(2,'0'),'bold 8px '+MONO,'center');
  txt(x+5,665,String(k+26),'bold 8px '+MONO,'center');
}
graphic.push({type:'rect', shape:{x:20.5,y:667.5,width:420,height:31}, style:{fill:'#fff',stroke:'#000',lineWidth:1}, silent:true});
txt(29,678,'Diagramme ensembles ECMWF/CEP 0.25° sur 360h : 40.6N 22.9E','bold 11.5px '+MONO);
txt(29,692,'Températures 850hPa et 500hPa (°C) , précipitations (mm)','10px '+MONO);
txt(452,676,'Ensemble ECMWF/CEP du 11/08/2026 - 00Z','10px '+MONO);
txt(452,692,'Copyright 2026 Meteociel.fr - ECMWF','bold 11.6px '+MONO);

const chart = echarts.init(document.getElementById('c'), null, {renderer:'canvas'});
chart.setOption({
  animation:false,
  backgroundColor:'#fff',
  grid:{left:50, right:50, top:0, height:600, containLabel:false},
  xAxis:{type:'value', min:0, max:360, interval:24,
    axisLine:{show:true, lineStyle:{color:'#000', width:1}},
    axisTick:{show:false},
    splitLine:{show:true, lineStyle:{color:'#c4c4c4', width:1}},
    axisLabel:{rotate:90, margin:3, color:'#000', fontFamily:MONO, fontSize:10, showMinLabel:true, showMaxLabel:true,
      verticalAlign:'top',
      formatter:v=>DATES[Math.round(v/24)]}},
  yAxis:[
    {type:'value', min:-52.9, max:33.1, position:'left', axisLine:{show:false}, axisTick:{show:false}, splitLine:{show:false},
     axisLabel:{customValues:Y_TICKS_C, margin:18, color:'#000', fontFamily:MONO, fontSize:10}},
    {type:'value', min:-7.9, max:78.1, position:'right', axisLine:{show:false}, axisTick:{show:false}, splitLine:{show:false},
     axisLabel:{customValues:Y_TICKS_MM, margin:8, color:'#000', fontFamily:MONO, fontSize:10}}
  ],
  series:series,
  graphic:graphic
});
</script></body></html>
